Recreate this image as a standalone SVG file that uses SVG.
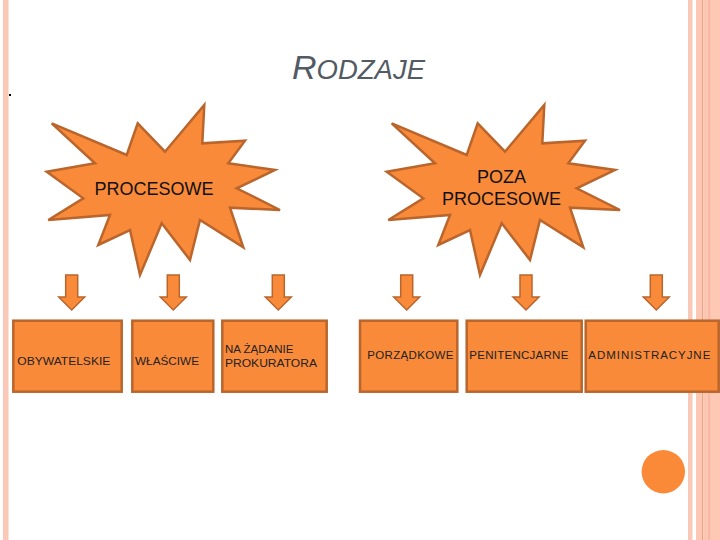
<svg xmlns="http://www.w3.org/2000/svg" width="720" height="540" viewBox="0 0 720 540">
<defs>
<style>
.star{fill:#f98a3a;stroke:#b9652c;stroke-width:2.5;stroke-linejoin:miter}
.box{fill:#f98a3a;stroke:#b9652c;stroke-width:2.5}
.arr{fill:#f98a3a;stroke:#b9652c;stroke-width:1.5}
.lbl{font-family:"Liberation Sans",Arial,sans-serif;fill:#111}
.sm{font-size:11.5px;fill:#222}
.big{font-size:18px}
.title{font-family:"Liberation Sans",Arial,sans-serif;font-style:italic;fill:#525a64}
</style>
<polygon id="starshape" points="51.7,123.3 126.7,155 137.7,123.3 165,151.7 204.3,105 202.3,143.3 245,140.7 228.3,163.3 275,170 236.7,188.3 280,210 230,207.7 243.3,247.3 200,220 190,260 161.7,223.3 140,275 130,230 98.3,245 110,215 48.3,220 83.3,198.3 46.7,171.7 95,163.3"/>
<path id="down" d="M-6,0 H6 V22 H13 L0,35 L-13,22 H-6 Z"/>
</defs>
<rect width="720" height="540" fill="#ffffff"/>
<!-- borders -->
<rect x="3" y="0" width="5.5" height="540" fill="#f9c8b6"/>
<rect x="688" y="0" width="4.5" height="540" fill="#f9c8b6"/>
<rect x="696" y="0" width="6" height="540" fill="#fcc8b5"/>
<rect x="702" y="0" width="1.3" height="540" fill="#eea383"/>
<rect x="703.3" y="0" width="4" height="540" fill="#fdc6b1"/>
<rect x="707.3" y="0" width="3.5" height="540" fill="#f7b9a5"/>
<rect x="710.8" y="0" width="9.2" height="540" fill="#fdc8b4"/>
<rect x="9" y="94" width="2" height="2" fill="#000"/>
<!-- title -->
<g id="title">
<text class="title" x="292" y="79"><tspan font-size="34">R</tspan><tspan font-size="27.5">ODZAJE</tspan></text>
</g>
<!-- stars -->
<g id="star-procesowe">
<use href="#starshape" class="star"/>
<text class="lbl big" x="154" y="195" text-anchor="middle">PROCESOWE</text>
</g>
<g id="star-poza">
<use href="#starshape" class="star" transform="translate(340,0)"/>
<text class="lbl big" x="501.5" y="183" text-anchor="middle">POZA</text>
<text class="lbl big" x="501.5" y="205" text-anchor="middle">PROCESOWE</text>
</g>
<!-- connectors -->
<g id="connectors">
<use href="#down" class="arr" transform="translate(71.7,275)"/>
<use href="#down" class="arr" transform="translate(173.3,275)"/>
<use href="#down" class="arr" transform="translate(278.3,275)"/>
<use href="#down" class="arr" transform="translate(406.7,275)"/>
<use href="#down" class="arr" transform="translate(526,275)"/>
<use href="#down" class="arr" transform="translate(656.3,275)"/>
</g>
<!-- boxes -->
<g id="box-obywatelskie">
<rect class="box" x="13.3" y="320.7" width="108.4" height="71"/>
<text class="lbl sm" x="17.3" y="364.5" textLength="93" lengthAdjust="spacingAndGlyphs">OBYWATELSKIE</text>
</g>
<g id="box-wlasciwe">
<rect class="box" x="132.3" y="320.7" width="81" height="71"/>
<text class="lbl sm" x="135" y="364.5" textLength="64" lengthAdjust="spacingAndGlyphs">WŁAŚCIWE</text>
</g>
<g id="box-prokuratora">
<rect class="box" x="222.3" y="320.7" width="104.4" height="71"/>
<text class="lbl sm" x="225" y="352.7">NA ŻĄDANIE</text>
<text class="lbl sm" x="225" y="366.7" textLength="92" lengthAdjust="spacingAndGlyphs">PROKURATORA</text>
</g>
<g id="box-porzadkowe">
<rect class="box" x="360" y="320.7" width="97.3" height="71"/>
<text class="lbl sm" x="367.3" y="359" textLength="86" lengthAdjust="spacing">PORZĄDKOWE</text>
</g>
<g id="box-penitencjarne">
<rect class="box" x="466.7" y="320.7" width="115" height="71"/>
<text class="lbl sm" x="469.3" y="358.5" textLength="99" lengthAdjust="spacing">PENITENCJARNE</text>
</g>
<g id="box-administracyjne">
<rect class="box" x="585.7" y="320.7" width="133" height="71"/>
<text class="lbl sm" x="588.3" y="359" textLength="122" lengthAdjust="spacing">ADMINISTRACYJNE</text>
</g>
<circle cx="663.3" cy="471.7" r="21.7" fill="#fb8a38"/>
</svg>
